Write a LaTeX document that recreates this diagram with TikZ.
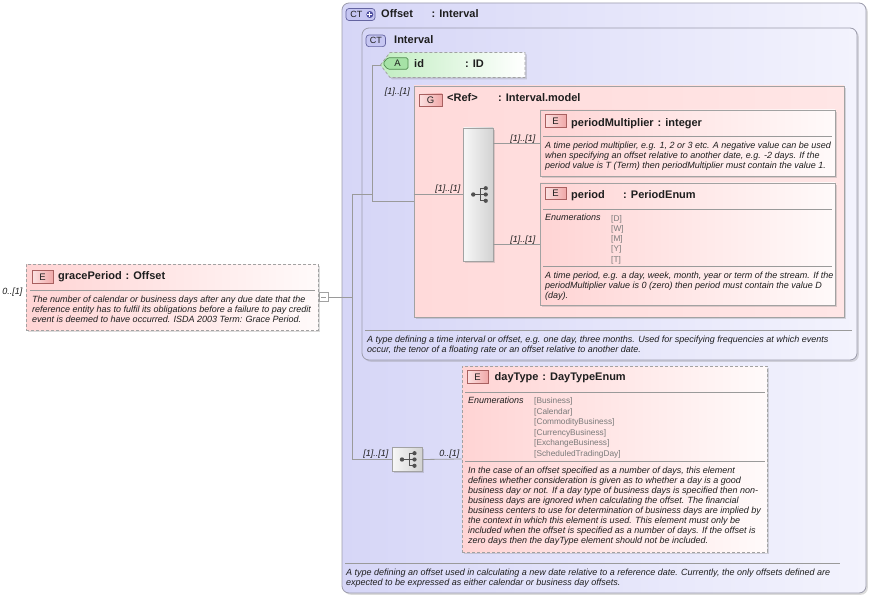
\documentclass[tikz,border=0pt]{standalone}
\usepackage{fontspec}
\setmainfont{Liberation Sans}
\usetikzlibrary{shadows}
\definecolor{lavL}{HTML}{D6D6F7}
\definecolor{lavR}{HTML}{F3F3FD}
\definecolor{ctbd}{HTML}{9C9CAC}
\definecolor{pinkL}{HTML}{FFD4D4}
\definecolor{pinkR}{HTML}{FFFAFA}
\definecolor{grpL}{HTML}{FFDADA}
\definecolor{grpR}{HTML}{FFE6E6}
\definecolor{greenL}{HTML}{C2EEC2}
\definecolor{greenR}{HTML}{FFFFFF}
\definecolor{bd}{HTML}{A2A2A2}
\definecolor{ln}{HTML}{9A9A9A}
\definecolor{sepc}{HTML}{9A9A9A}
\definecolor{txt}{HTML}{1E1E1E}
\definecolor{enumc}{HTML}{7A7A7A}
\definecolor{ebL}{HTML}{FCE2E2}
\definecolor{ebR}{HTML}{F0A8A8}
\definecolor{ebd}{HTML}{A86060}
\definecolor{ctbf}{HTML}{C6C6F2}
\definecolor{ctbbd}{HTML}{6464A0}
\definecolor{abf}{HTML}{A6E2A6}
\definecolor{abd}{HTML}{4E8A4E}
\definecolor{plusc}{HTML}{5050A0}
\definecolor{seqL}{HTML}{F7F7F7}
\definecolor{seqR}{HTML}{D2D2D2}
\definecolor{iconc}{HTML}{505050}
\tikzset{
  shd/.style={drop shadow={shadow xshift=1.8pt, shadow yshift=-1.8pt, opacity=0.28}},
  ctbox/.style={draw=ctbd, line width=0.8pt, rounded corners=7pt, left color=lavL, right color=lavR, inner sep=0, shd},
  grpbox/.style={draw=bd, line width=0.8pt, left color=grpL, right color=grpR, inner sep=0, shd},
  elbox/.style={draw=bd, line width=0.8pt, left color=pinkL, right color=pinkR, inner sep=0, shd},
  optbox/.style={elbox, dash pattern=on 3pt off 2pt},
  seqbox/.style={draw=bd, line width=0.8pt, left color=seqL, right color=seqR, inner sep=0, shd},
  ebadge/.style={draw=ebd, line width=0.7pt, left color=ebL, right color=ebR, minimum width=21pt, minimum height=12.5pt, inner sep=0, font=\fontsize{9.5}{10}\selectfont, text=txt},
  ctbadge/.style={draw=ctbbd, line width=0.7pt, fill=ctbf, rounded corners=3pt, inner sep=0, font=\fontsize{9}{10}\selectfont, text=txt},
  ttl/.style={anchor=base west, inner sep=0, font=\fontsize{11}{13}\selectfont\bfseries, text=txt},
  dsc/.style={anchor=north west, inner sep=0, align=left, font=\fontsize{9}{10}\selectfont\itshape, text=txt},
  enm/.style={anchor=north west, inner sep=0, align=left, font=\fontsize{8.3}{10.5}\selectfont, text=enumc},
  enlab/.style={anchor=base west, inner sep=0, font=\fontsize{9}{10}\selectfont\itshape, text=txt},
  mlt/.style={anchor=base east, inner sep=0, font=\fontsize{9}{10}\selectfont\itshape, text=txt},
  lnk/.style={draw=ln, line width=0.8pt},
  sepl/.style={draw=sepc, line width=0.7pt},
  seqicon/.pic={
    \draw[iconc, line width=1pt] (-5,0) -- (2.2,0) (2.2,-6.3) -- (2.2,6.3)
      (2.2,-6.3) -- (7.5,-6.3) (2.2,6.3) -- (7.5,6.3) (2.2,0) -- (7.5,0);
    \fill[iconc] (-5,0) circle (2.2) (7.5,-6.3) circle (2.1) (7.5,0) circle (2.1) (7.5,6.3) circle (2.1);
  }
}
\begin{document}
\begin{tikzpicture}[x=1pt,y=-1pt]
\useasboundingbox (0,0) rectangle (870,596);
\fill[white] (0,0) rectangle (870,596);

% ---------- Offset complex type ----------
\node[ctbox, minimum width=524pt, minimum height=590pt] (offset) at (604,298) {};
\node[ctbadge, minimum width=29pt, minimum height=12pt] (ctp) at (360.5,14.5) {};
\node[inner sep=0, font=\fontsize{9}{10}\selectfont, text=txt] (ctptxt) at (356.3,14.8) {CT};
\node[circle, fill=plusc, minimum size=7pt, inner sep=0] (plus) at (369.8,14.5) {};
\draw[white, line width=1.1pt] ([xshift=-2.4pt]plus.center) -- ([xshift=2.4pt]plus.center)
  ([yshift=-2.4pt]plus.center) -- ([yshift=2.4pt]plus.center);
\node[ttl] (offn) at (381,17.8) {Offset};
\node[ttl] (offt) at (431.5,17.8) {: Interval};
\draw[sepl] (345,563.3) -- (840,563.3);
\node[dsc] (offd) at (346,568) {\rule{0pt}{7pt}A type defining an offset used in calculating a new date relative to a reference date. Currently, the only offsets defined are\\expected to be expressed as either calendar or business day offsets.};

% ---------- Interval complex type ----------
\node[ctbox, minimum width=495pt, minimum height=332pt] (interval) at (609.5,194) {};
\node[ctbadge, minimum width=19.5pt, minimum height=11.7pt] (ctb) at (375.8,40.8) {CT};
\node[ttl] (intn) at (394,43.8) {Interval};
\draw[sepl] (365,330) -- (852,330);
\node[dsc] (intd) at (367,335.5) {\rule{0pt}{7pt}A type defining a time interval or offset, e.g. one day, three months. Used for specifying frequencies at which events\\occur, the tenor of a floating rate or an offset relative to another date.};

% ---------- id attribute ----------
\path[draw=bd, dash pattern=on 3pt off 2pt, line width=0.8pt, left color=greenL, right color=greenR, shd]
  (380.5,65) -- (390,52.5) -- (525,52.5) -- (525,77.5) -- (390,77.5) -- cycle;
\coordinate (idtip) at (380.5,65);
\path[draw=abd, fill=abf, line width=0.7pt, rounded corners=1.5pt]
  (383,63.5) -- (387.5,57.8) -- (408,57.8) -- (408,69.2) -- (387.5,69.2) -- cycle;
\node[inner sep=0, font=\fontsize{9.5}{10}\selectfont, text=txt] (abadge) at (397.5,63.7) {A};
\node[ttl] (idn) at (414,67.6) {id};
\node[ttl] (idt) at (465,67.6) {: ID};

% ---------- Ref group ----------
\node[grpbox, minimum width=430pt, minimum height=231pt] (grp) at (629,201.5) {};
\node[ebadge, minimum width=23pt, minimum height=12pt] (gb) at (430.5,100) {G};
\node[ttl] (grpn) at (447,101.7) {<Ref>};
\node[ttl] (grpt) at (498,101.7) {: Interval.model};
\node[mlt] (mgrp) at (410,95) {[1]..[1]};

% ---------- sequence 1 ----------
\node[seqbox, minimum width=29.5pt, minimum height=133pt] (seq1) at (478.25,194.5) {};
\pic at (seq1.center) {seqicon};
\node[mlt] (mseq1) at (460.5,192) {[1]..[1]};

% ---------- periodMultiplier ----------
\node[elbox, minimum width=295pt, minimum height=66pt] (pm) at (687.5,143) {};
\node[ebadge] (pmb) at (555.5,121) {E};
\node[ttl] (pmn) at (571,126.8) {periodMultiplier};
\node[ttl] (pmt) at ([xshift=3.5pt]pmn.base east) {: integer};
\draw[sepl] (543,136.7) -- (832,136.7);
\node[dsc] (pmd) at (545,141) {\rule{0pt}{7pt}A time period multiplier, e.g. 1, 2 or 3 etc. A negative value can be used\\when specifying an offset relative to another date, e.g. -2 days. If the\\period value is T (Term) then periodMultiplier must contain the value 1.};
\node[mlt] (mpm) at (535.5,141.5) {[1]..[1]};

% ---------- period ----------
\node[elbox, minimum width=295pt, minimum height=122pt] (period) at (687.5,244) {};
\node[ebadge] (peb) at (555.5,193.5) {E};
\node[ttl] (pen) at (571,198.5) {period};
\node[ttl] (pet) at (623,198.5) {: PeriodEnum};
\draw[sepl] (543,209.3) -- (832,209.3);
\node[enlab] (pel) at (545,220.8) {Enumerations};
\node[enm, font=\fontsize{8.3}{10.25}\selectfont] (pev) at (611,214.3) {\rule{0pt}{6.5pt}[D]\\{}[W]\\{}[M]\\{}[Y]\\{}[T]};
\draw[sepl] (543,266.7) -- (832,266.7);
\node[dsc, font=\fontsize{9}{9.8}\selectfont\itshape] (ped) at (545,271.5) {\rule{0pt}{7pt}A time period, e.g. a day, week, month, year or term of the stream. If the\\periodMultiplier value is 0 (zero) then period must contain the value D\\{}(day).};
\node[mlt] (mpe) at (535.5,242.3) {[1]..[1]};

% ---------- gracePeriod ----------
\node[optbox, minimum width=292pt, minimum height=66pt] (grace) at (172,297) {};
\node[ebadge] (grb) at (42.5,277) {E};
\node[ttl] (grn) at (58,279.7) {gracePeriod};
\node[ttl] (grt) at ([xshift=3.5pt]grn.base east) {: Offset};
\draw[sepl] (30,290) -- (315,290);
\node[dsc] (grd) at (32,294.8) {\rule{0pt}{7pt}The number of calendar or business days after any due date that the\\reference entity has to fulfil its obligations before a failure to pay credit\\event is deemed to have occurred. ISDA 2003 Term: Grace Period.};
\node[mlt] (mgr) at (22.5,294.5) {0..[1]};
\node[draw=bd, fill=white, line width=0.7pt, minimum size=9pt, inner sep=0] (gminus) at (323.5,297) {};
\draw[ln, line width=0.8pt] ([xshift=-2.6pt]gminus.center) -- ([xshift=2.6pt]gminus.center);

% ---------- sequence 2 and dayType ----------
\node[seqbox, minimum width=30pt, minimum height=24pt] (seq2) at (407,459.5) {};
\pic at (seq2.center) {seqicon};
\node[mlt] (mseq2) at (388.5,456.5) {[1]..[1]};
\node[mlt] (mday) at (459.5,456.5) {0..[1]};

\node[optbox, minimum width=305pt, minimum height=186pt] (day) at (614.5,459) {};
\node[ebadge] (dab) at (477.5,377) {E};
\node[ttl] (dan) at (494.5,380.8) {dayType};
\node[ttl] (dat) at ([xshift=3.5pt]dan.base east) {: DayTypeEnum};
\draw[sepl] (465,392.3) -- (765,392.3);
\node[enlab] (dal) at (468,403.5) {Enumerations};
\node[enm] (dav) at (534,397) {\rule{0pt}{6.5pt}[Business]\\{}[Calendar]\\{}[CommodityBusiness]\\{}[CurrencyBusiness]\\{}[ExchangeBusiness]\\{}[ScheduledTradingDay]};
\draw[sepl] (465,461) -- (765,461);
\node[dsc, font=\fontsize{9}{9.9}\selectfont\itshape] (dad) at (468,466.5) {\rule{0pt}{7pt}In the case of an offset specified as a number of days, this element\\defines whether consideration is given as to whether a day is a good\\business day or not. If a day type of business days is specified then non-\\business days are ignored when calculating the offset. The financial\\business centers to use for determination of business days are implied by\\the context in which this element is used. This element must only be\\included when the offset is specified as a number of days. If the offset is\\zero days then the dayType element should not be included.};

% ---------- connectors ----------
\coordinate (trTop) at (352,194);
\coordinate (trBot) at (trTop |- seq2.west);
\coordinate (brA) at (372,194);
\coordinate (brTop) at (brA |- idtip);
\coordinate (brBot) at (brA |- grp.west);
\draw[lnk] (gminus.east) -- (trTop |- gminus.east);
\draw[lnk] (trTop) -- (trBot);
\draw[lnk] (trTop) -- (brA);
\draw[lnk] (brTop) -- (brBot);
\draw[lnk] (brTop) -- (idtip);
\draw[lnk] (brBot) -- (grp.west);
\draw[lnk] (grp.west |- seq1.west) -- (seq1.west);
\draw[lnk] (seq1.east |- pm.west) -- (pm.west);
\draw[lnk] (seq1.east |- period.west) -- (period.west);
\draw[lnk] (trBot) -- (seq2.west);
\draw[lnk] (seq2.east) -- (day.west);
\end{tikzpicture}
\end{document}
